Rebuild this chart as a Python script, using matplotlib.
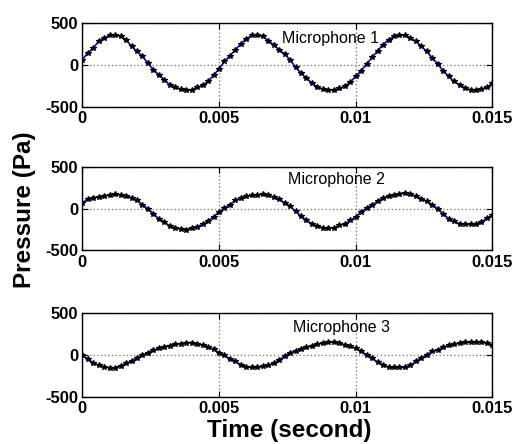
import numpy as np
import matplotlib
matplotlib.use("Agg")
import matplotlib.pyplot as plt

plt.rcParams['font.family'] = ['Liberation Sans', 'DejaVu Sans']

# Sampling: 5 kHz, 76 samples covering 0..0.015 s
dt = 0.0002
n_samples = 76

mic1 = [60, 140, 200, 280, 320, 352, 360, 340, 300, 220,
        160, 100, 20, -60, -120, -180, -240, -272, -292, -304,
        -304, -272, -248, -200, -128, -48, 40, 108, 180, 248,
        312, 352, 352, 340, 288, 240, 180, 128, 60, -32,
        -100, -160, -220, -268, -292, -304, -300, -284, -260, -208,
        -140, -72, 8, 88, 168, 240, 300, 340, 352, 352,
        320, 280, 220, 160, 80, 8, -72, -140, -200, -240,
        -280, -300, -304, -292, -268, -224]

mic2 = [70, 115, 133, 143, 150, 170, 174, 162, 150, 133,
        100, 50, 0, -60, -120, -162, -205, -230, -240, -252,
        -228, -214, -188, -148, -96, -40, 8, 48, 100, 128,
        148, 160, 168, 172, 160, 140, 112, 72, 30, -32,
        -88, -140, -180, -208, -228, -232, -228, -200, -180, -140,
        -100, -40, 8, 48, 88, 128, 152, 168, 180, 188,
        172, 148, 120, 88, 48, 0, -60, -120, -152, -180,
        -188, -188, -188, -160, -112, -80]

mic3 = [-5, -48, -100, -126, -144, -156, -156, -134, -104, -76,
        -40, -6, 24, 54, 76, 96, 110, 124, 132, 144,
        146, 134, 114, 94, 66, 24, -8, -48, -80, -120,
        -144, -152, -152, -140, -128, -100, -60, -20, 26, 48,
        72, 92, 108, 128, 140, 148, 152, 140, 120, 100,
        80, 40, 0, -40, -88, -120, -148, -152, -152, -152,
        -128, -80, -40, 0, 40, 60, 88, 112, 128, 140,
        148, 148, 148, 148, 140, 112]

series = [mic1, mic2, mic3]
labels = ["Microphone 1", "Microphone 2", "Microphone 3"]
label_pos = [(0.00908, 320), (0.00931, 350), (0.00949, 326)]

xticks = [0, 0.005, 0.01, 0.015]
xticklabels = ["0", "0.005", "0.01", "0.015"]
yticks = [-500, 0, 500]
yticklabels = ["-500", "0", "500"]

t = np.arange(n_samples) * dt

W, H = 515, 444
fig = plt.figure(figsize=(W / 100, H / 100), dpi=100)

left = 82.3 / W
width = 410.1 / W
height = 83.5 / H
bottoms = [1 - 106.5 / H, 1 - 250.5 / H, 1 - 396.5 / H]

for values, lab, (lx, ly), b in zip(series, labels, label_pos, bottoms):
    ax = fig.add_axes([left, b, width, height])
    ax.plot(t, values, color='#0000ff', lw=1.2, zorder=3)
    ax.plot(t, values, ls='none', marker='*', ms=4, color='#000000',
            mew=0.9, zorder=4)
    ax.set_xlim(0, 0.015)
    ax.set_ylim(-500, 500)
    ax.set_xticks(xticks)
    ax.set_xticklabels(xticklabels)
    ax.set_yticks(yticks)
    ax.set_yticklabels(yticklabels)
    ax.grid(True, ls=':', color='#808080', lw=1.0)
    ax.tick_params(direction='in', length=4, width=0.8, top=True, right=True,
                   labelsize=12, pad=3, color='#000000')
    for tl in ax.get_xticklabels() + ax.get_yticklabels():
        tl.set_fontweight('bold')
    for sp in ax.spines.values():
        sp.set_linewidth(1.0)
        sp.set_color('#000000')
    ax.text(lx, ly, lab, ha='center', va='center', fontsize=11.5, zorder=5)

fig.text(25 / W, 1 - 210 / H, "Pressure (Pa)", rotation=90, ha='center',
         va='center', fontsize=17.5, fontweight='bold')
fig.text(289 / W, 1 - 430 / H, "Time (second)", ha='center', va='center',
         fontsize=17.5, fontweight='bold')

fig.savefig("out.png", dpi=100)
